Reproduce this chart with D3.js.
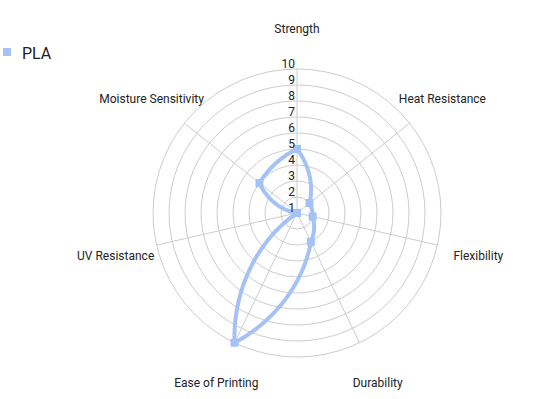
<!DOCTYPE html>
<html>
<head>
<meta charset="utf-8">
<script src="https://cdn.jsdelivr.net/npm/d3@7"></script>
<style>
  html, body { margin: 0; padding: 0; background: #fff; }
  svg { display: block; font-family: Roboto, "Noto Sans", sans-serif; }
</style>
</head>
<body>
<svg id="chart" width="535" height="399"></svg>
<script>
const categories = ["Strength", "Heat Resistance", "Flexibility", "Durability", "Ease of Printing", "UV Resistance", "Moisture Sensitivity"];
const seriesName = "PLA";
const seriesValues = [5, 2, 2, 3, 10, 1, 4];
const tickValues = [1, 2, 3, 4, 5, 6, 7, 8, 9, 10];

const width = 535, height = 399;
const cx = 297, cy = 213, R = 144;
const lineColor = "#a4c2f4";
const gridColor = "#cccccc";

const svg = d3.select("#chart");
const g = svg.append("g").attr("transform", `translate(${cx},${cy})`);

const r = d3.scaleLinear().domain([1, 10]).range([0, R]).clamp(true);
const n = categories.length;
const angle = d3.scaleLinear().domain([0, n]).range([0, 2 * Math.PI]);

// grid circles
g.selectAll("circle.grid").data(tickValues.filter(v => v > 1)).enter()
  .append("circle").attr("class", "grid")
  .attr("r", d => r(d)).attr("fill", "none")
  .attr("stroke", gridColor).attr("stroke-width", 1);

// spokes
g.selectAll("line.spoke").data(categories).enter()
  .append("line").attr("class", "spoke")
  .attr("x1", 0).attr("y1", 0)
  .attr("x2", (d, i) => R * Math.sin(angle(i)))
  .attr("y2", (d, i) => -R * Math.cos(angle(i)))
  .attr("stroke", gridColor).attr("stroke-width", 1);

// category labels
const labelR = 186;
g.selectAll("text.cat").data(categories).enter()
  .append("text").attr("class", "cat")
  .attr("x", (d, i) => labelR * Math.sin(angle(i)))
  .attr("y", (d, i) => -labelR * Math.cos(angle(i)) + 2)
  .attr("text-anchor", "middle").attr("dominant-baseline", "central")
  .attr("font-size", 12).attr("fill", "#222")
  .text(d => d);

// series line: blend of polar (spiral) and straight interpolation between neighbours
const pts = seriesValues.map((v, i) => [r(v) * Math.sin(angle(i)), -r(v) * Math.cos(angle(i))]);
const w = 0.58, steps = 60, samples = [];
for (let i = 0; i < n; i++) {
  const j = (i + 1) % n;
  for (let s = 0; s < steps; s++) {
    const t = s / steps;
    const th = angle(i + t), rr = r(seriesValues[i] + (seriesValues[j] - seriesValues[i]) * t);
    const px = rr * Math.sin(th), py = -rr * Math.cos(th);
    const lx = pts[i][0] + (pts[j][0] - pts[i][0]) * t, ly = pts[i][1] + (pts[j][1] - pts[i][1]) * t;
    samples.push([w * px + (1 - w) * lx, w * py + (1 - w) * ly]);
  }
}
g.append("path")
  .attr("d", d3.line().curve(d3.curveLinearClosed)(samples))
  .attr("fill", "none").attr("stroke", lineColor).attr("stroke-width", 4)
  .attr("stroke-linejoin", "round");

// markers
const ms = 8;
g.selectAll("rect.pt").data(pts).enter()
  .append("rect").attr("class", "pt")
  .attr("x", d => d[0] - ms / 2).attr("y", d => d[1] - ms / 2)
  .attr("width", ms).attr("height", ms).attr("fill", lineColor);

// tick labels
g.selectAll("text.tick").data(tickValues).enter()
  .append("text").attr("class", "tick")
  .attr("x", -2).attr("y", d => -r(d) - 5)
  .attr("text-anchor", "end").attr("dominant-baseline", "central")
  .attr("font-size", 12).attr("fill", "#222")
  .text(d => d);

// legend
const leg = svg.append("g");
leg.append("rect").attr("x", 3).attr("y", 48).attr("width", 8).attr("height", 8).attr("fill", lineColor);
leg.append("text").attr("x", 22).attr("y", 53.5).attr("dominant-baseline", "central")
  .attr("font-size", 16).attr("fill", "#222").text(seriesName);
</script>
</body>
</html>
